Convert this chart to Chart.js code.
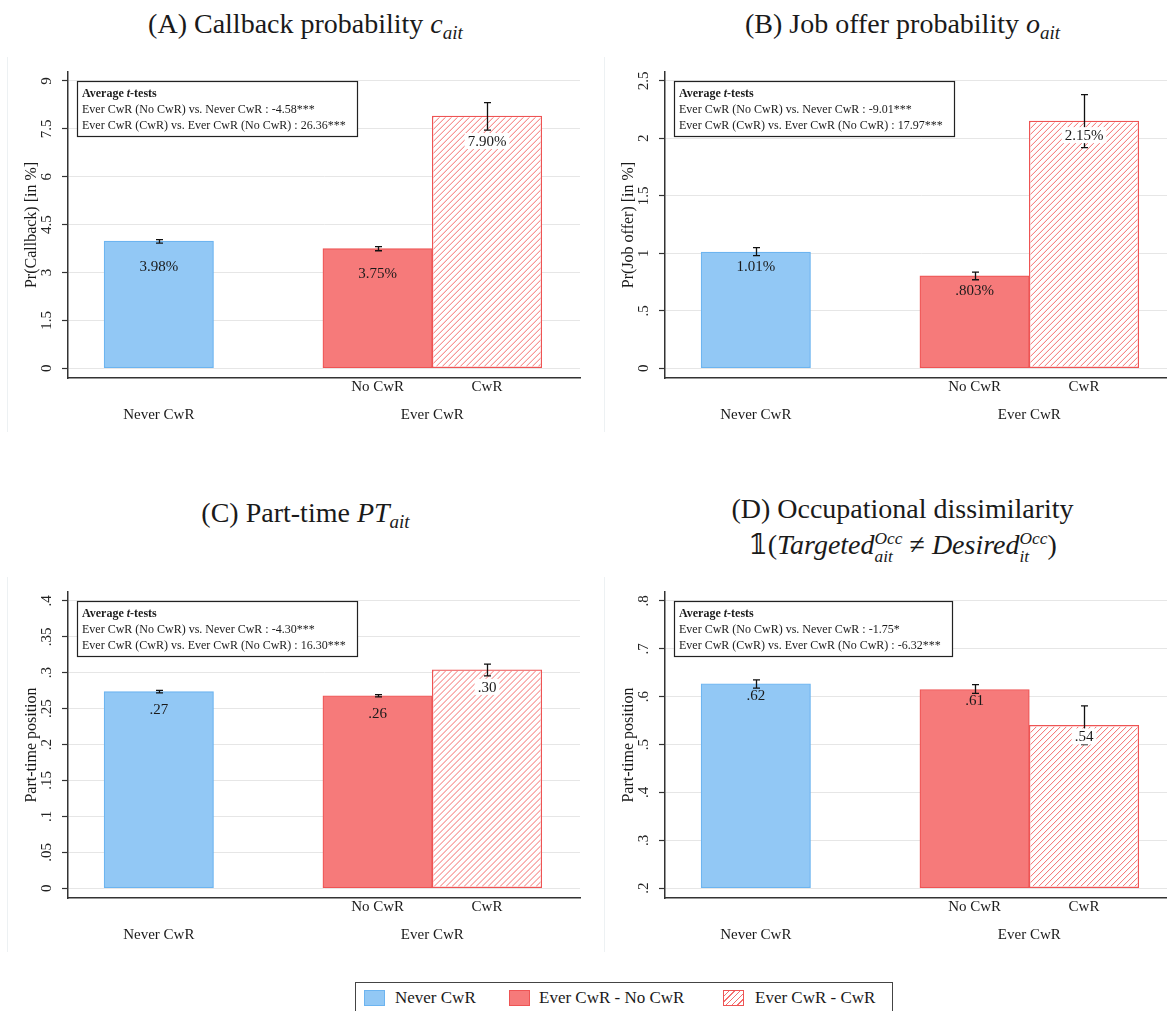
<!DOCTYPE html>
<html><head><meta charset="utf-8">
<script src="https://cdn.jsdelivr.net/npm/chart.js@4.4.1/dist/chart.umd.min.js"></script>
<style>
html,body{margin:0;padding:0;background:#fff;}
body{width:1167px;height:1011px;position:relative;overflow:hidden;font-family:"Liberation Serif",serif;color:#1a1a1a;}
.panel{position:absolute;width:596px;height:375px;border-left:1px solid #edf1f3;}
.panel canvas{display:block;}
.title{position:absolute;width:597px;text-align:center;font-size:28px;line-height:30px;white-space:nowrap;}
.m{font-style:italic;}
.m sub{font-size:0.68em;vertical-align:-0.3em;line-height:0;}
.ss{display:inline-block;vertical-align:-0.45em;line-height:1.05em;font-size:0.62em;font-style:italic;text-align:left;}
.ss span{display:block;}
.legend{position:absolute;left:355px;top:982px;width:538px;height:34px;border:1px solid #444;box-sizing:border-box;font-size:17px;}
.li{position:absolute;top:6px;height:20px;line-height:20px;white-space:nowrap;}
.sw{position:absolute;top:1px;left:0;width:21px;height:16px;box-sizing:border-box;}
.lt{position:absolute;top:-1px;}
</style></head>
<body>
<div class="title" style="left:7px;top:9px">(A) Callback probability <span class="m">c<sub>ait</sub></span></div>
<div class="title" style="left:604px;top:9px">(B) Job offer probability <span class="m">o<sub>ait</sub></span></div>
<div class="title" style="left:7px;top:498px">(C) Part-time <span class="m">PT<sub>ait</sub></span></div>
<div class="title" style="left:604px;top:491px;line-height:36px">(D) Occupational dissimilarity<br><span style="font-family:'DejaVu Serif','DejaVu Sans',serif">𝟙</span>(<i>Targeted</i><span class="ss"><span>Occ</span><span>ait</span></span> ≠ <i>Desired</i><span class="ss"><span>Occ</span><span>it</span></span>)</div>

<div class="panel" style="left:7px;top:57px"><canvas id="cA" width="596" height="375"></canvas></div>
<div class="panel" style="left:604px;top:57px"><canvas id="cB" width="596" height="375"></canvas></div>
<div class="panel" style="left:7px;top:577px"><canvas id="cC" width="596" height="375"></canvas></div>
<div class="panel" style="left:604px;top:577px"><canvas id="cD" width="596" height="375"></canvas></div>

<div class="legend" id="legend"></div>

<script>
// ---------------- DATA ----------------
const seriesNames = ['Never CwR', 'Ever CwR - No CwR', 'Ever CwR - CwR'];
const barSubLabels = ['', 'No CwR', 'CwR'];
const groupNames = ['Never CwR', 'Ever CwR'];

const callbackValues = [3.98, 3.75, 7.90];
const callbackLow    = [3.92, 3.68, 7.46];
const callbackHigh   = [4.03, 3.81, 8.32];
const callbackLabels = ['3.98%', '3.75%', '7.90%'];
const callbackTicks  = [0, 1.5, 3, 4.5, 6, 7.5, 9];
const callbackTickLabels = ['0', '1.5', '3', '4.5', '6', '7.5', '9'];
const callbackTests  = ['Ever CwR (No CwR) vs. Never CwR : -4.58***', 'Ever CwR (CwR) vs. Ever CwR (No CwR) : 26.36***'];

const offerValues = [1.01, 0.803, 2.15];
const offerLow    = [0.98, 0.77, 1.92];
const offerHigh   = [1.05, 0.836, 2.38];
const offerLabels = ['1.01%', '.803%', '2.15%'];
const offerTicks  = [0, 0.5, 1, 1.5, 2, 2.5];
const offerTickLabels = ['0', '.5', '1', '1.5', '2', '2.5'];
const offerTests  = ['Ever CwR (No CwR) vs. Never CwR : -9.01***', 'Ever CwR (CwR) vs. Ever CwR (No CwR) : 17.97***'];

const partTimeValues = [0.2736, 0.268, 0.304];
const partTimeLow    = [0.272, 0.2665, 0.2955];
const partTimeHigh   = [0.2755, 0.2695, 0.312];
const partTimeLabels = ['.27', '.26', '.30'];
const partTimeTicks  = [0, 0.05, 0.1, 0.15, 0.2, 0.25, 0.3, 0.35, 0.4];
const partTimeTickLabels = ['0', '.05', '.1', '.15', '.2', '.25', '.3', '.35', '.4'];
const partTimeTests  = ['Ever CwR (No CwR) vs. Never CwR : -4.30***', 'Ever CwR (CwR) vs. Ever CwR (No CwR) : 16.30***'];

const occValues = [0.627, 0.615, 0.540];
const occLow    = [0.618, 0.607, 0.500];
const occHigh   = [0.635, 0.625, 0.581];
const occLabels = ['.62', '.61', '.54'];
const occTicks  = [0.2, 0.3, 0.4, 0.5, 0.6, 0.7, 0.8];
const occTickLabels = ['.2', '.3', '.4', '.5', '.6', '.7', '.8'];
const occTests  = ['Ever CwR (No CwR) vs. Never CwR : -1.75*', 'Ever CwR (CwR) vs. Ever CwR (No CwR) : -6.32***'];

// ---------------- STYLE / LAYOUT ----------------
const barSlots = [1, 3, 4];           // slot of each bar on the linear x scale (group gap between Never and Ever)
const slotMin = 0.17, slotMax = 4.85;
const SERIF = '"Liberation Serif", "Times New Roman", serif';
const blueFill = 'rgb(146,200,245)', blueLine = 'rgb(108,180,240)';
const redFill = 'rgb(246,122,122)', redLine = 'rgb(238,84,84)';
const hatchLine = 'rgb(244,110,110)';
const HATCHED = 2;
const BW = 1.2;

const overlay = {
  id: 'overlay',
  afterDatasetsDraw(chart) {
    const p = chart.options.plugins.overlay;
    const { ctx, chartArea } = chart;
    const xs = chart.scales.x, ys = chart.scales.y;
    ctx.save();
    // hatch fill of the "Ever CwR - CwR" bar (geometry from the bar element)
    const el = chart.getDatasetMeta(0).data[HATCHED];
    const g = el.getProps(['x', 'y', 'base', 'width'], true);
    const L = g.x - g.width / 2 + BW, R = g.x + g.width / 2 - BW;
    const T = Math.min(g.y, g.base) + BW, B = Math.max(g.y, g.base) - BW;
    const H = B - T;
    ctx.save();
    ctx.beginPath(); ctx.rect(L, T, R - L, H); ctx.clip();
    ctx.strokeStyle = hatchLine; ctx.lineWidth = 1;
    ctx.beginPath();
    for (let k = L - H; k < R + 6; k += 6) { ctx.moveTo(k, B); ctx.lineTo(k + H, T); }
    ctx.stroke();
    ctx.restore();

    // error bars
    ctx.strokeStyle = '#111'; ctx.lineWidth = 1.3;
    for (let i = 0; i < p.values.length; i++) {
      const cx = Math.round(xs.getPixelForValue(barSlots[i])) + 0.5;
      const yl = ys.getPixelForValue(p.low[i]), yh = ys.getPixelForValue(p.high[i]);
      ctx.beginPath();
      ctx.moveTo(cx, yl); ctx.lineTo(cx, yh);
      ctx.moveTo(cx - 3.5, yl); ctx.lineTo(cx + 3.5, yl);
      ctx.moveTo(cx - 3.5, yh); ctx.lineTo(cx + 3.5, yh);
      ctx.stroke();
    }
    // value labels
    ctx.font = '15px ' + SERIF; ctx.textAlign = 'center'; ctx.textBaseline = 'middle';
    for (let i = 0; i < p.values.length; i++) {
      const cx = xs.getPixelForValue(barSlots[i]);
      const ty = ys.getPixelForValue(p.values[i]) + p.labelGap;
      const txt = p.labels[i];
      if (i === HATCHED) {
        const w = ctx.measureText(txt).width;
        ctx.fillStyle = '#fff';
        ctx.fillRect(cx - w / 2 - 3, ty - 8, w + 6, 16);
      }
      ctx.fillStyle = '#1a1a1a';
      ctx.fillText(txt, cx, ty + 1);
    }
    // y tick labels (rotated)
    ctx.font = '15px ' + SERIF; ctx.fillStyle = '#222';
    ys.ticks.forEach((t, k) => {
      const ty = ys.getPixelForValue(t.value);
      ctx.save(); ctx.translate(39, ty); ctx.rotate(-Math.PI / 2);
      ctx.textAlign = 'center'; ctx.textBaseline = 'middle';
      ctx.fillText(p.tickLabels[k], 0, 0);
      ctx.restore();
    });
    // y axis title
    ctx.save();
    ctx.font = '16px ' + SERIF; ctx.fillStyle = '#1a1a1a';
    ctx.translate(24, (chartArea.top + chartArea.bottom) / 2); ctx.rotate(-Math.PI / 2);
    ctx.textAlign = 'center'; ctx.textBaseline = 'middle';
    ctx.fillText(p.yTitle, 0, 0);
    ctx.restore();
    // x labels
    ctx.font = '15px ' + SERIF; ctx.fillStyle = '#1a1a1a'; ctx.textAlign = 'center'; ctx.textBaseline = 'middle';
    for (let i = 0; i < barSubLabels.length; i++) {
      if (barSubLabels[i]) ctx.fillText(barSubLabels[i], xs.getPixelForValue(barSlots[i]), chartArea.bottom + 9);
    }
    ctx.fillText(groupNames[0], xs.getPixelForValue(barSlots[0]), chartArea.bottom + 37);
    ctx.fillText(groupNames[1], xs.getPixelForValue((barSlots[1] + barSlots[2]) / 2), chartArea.bottom + 37);
    // annotation box
    const bx = chartArea.left + 9, by = Math.round(ys.getPixelForValue(p.ticks[p.ticks.length - 1])) + 0.5;
    ctx.font = '12px ' + SERIF;
    const tw = Math.max(ctx.measureText(p.tests[0]).width, ctx.measureText(p.tests[1]).width);
    const bw = Math.round(tw + 16), bh = 55;
    ctx.fillStyle = '#fff'; ctx.fillRect(bx, by, bw, bh);
    ctx.strokeStyle = '#222'; ctx.lineWidth = 1.2; ctx.strokeRect(Math.round(bx) + 0.5, by, bw, bh);
    ctx.textAlign = 'left'; ctx.textBaseline = 'middle'; ctx.fillStyle = '#1a1a1a';
    let tx = bx + 5;
    ctx.font = 'bold 12px ' + SERIF; ctx.fillText('Average ', tx, by + 12); tx += ctx.measureText('Average ').width;
    ctx.font = 'italic bold 12px ' + SERIF; ctx.fillText('t', tx, by + 12); tx += ctx.measureText('t').width;
    ctx.font = 'bold 12px ' + SERIF; ctx.fillText('-tests', tx, by + 12);
    ctx.font = '12px ' + SERIF;
    ctx.fillText(p.tests[0], bx + 5, by + 28);
    ctx.fillText(p.tests[1], bx + 5, by + 44);
    ctx.restore();
  }
};

function makePanel(id, values, low, high, labels, ticks, tickLabels, tests, yTitle, labelGap) {
  const tmin = ticks[0], tmax = ticks[ticks.length - 1], span = tmax - tmin;
  new Chart(document.getElementById(id), {
    type: 'bar',
    data: {
      datasets: [{
        label: 'bars',
        data: values.map((v, i) => ({ x: barSlots[i], y: v })),
        backgroundColor: [blueFill, redFill, '#ffffff'],
        borderColor: [blueLine, redLine, redLine],
        borderWidth: BW,
        borderSkipped: false,
        base: tmin,
        categoryPercentage: 1,
        barPercentage: 1
      }]
    },
    options: {
      responsive: false, animation: false, devicePixelRatio: 1,
      layout: { padding: { top: 15, right: 24, left: 0, bottom: 0 } },
      plugins: {
        legend: { display: false }, tooltip: { enabled: false },
        overlay: { values, low, high, labels, ticks, tickLabels, tests, yTitle, labelGap }
      },
      scales: {
        x: {
          type: 'linear', min: slotMin, max: slotMax, offset: false,
          afterBuildTicks: s => { s.ticks = barSlots.map(v => ({ value: v })); },
          grid: { display: false }, ticks: { display: false },
          border: { display: true, color: '#333', width: 1.5 },
          afterFit: s => { s.height = 54; }
        },
        y: {
          min: tmin - span * 0.034, max: tmax + span * 0.031,
          afterBuildTicks: s => { s.ticks = ticks.map(v => ({ value: v })); },
          grid: { color: '#e6e6e6', lineWidth: 1, drawTicks: true, tickLength: 6, tickColor: '#333', tickWidth: 1.2 },
          ticks: { display: false },
          border: { display: true, color: '#333', width: 1.5 },
          afterFit: s => { s.width = 60; }
        }
      }
    },
    plugins: [overlay]
  });
}

makePanel('cA', callbackValues, callbackLow, callbackHigh, callbackLabels, callbackTicks, callbackTickLabels, callbackTests, 'Pr(Callback) [in %]', 25);
makePanel('cB', offerValues, offerLow, offerHigh, offerLabels, offerTicks, offerTickLabels, offerTests, 'Pr(Job offer) [in %]', 14);
makePanel('cC', partTimeValues, partTimeLow, partTimeHigh, partTimeLabels, partTimeTicks, partTimeTickLabels, partTimeTests, 'Part-time position', 17);
makePanel('cD', occValues, occLow, occHigh, occLabels, occTicks, occTickLabels, occTests, 'Part-time position', 11);

// shared legend
const legendLefts = [8, 153, 367];
const swatchStyles = [
  `background:${blueFill};border:1px solid ${blueLine};`,
  `background:${redFill};border:1px solid ${redLine};`,
  `background:repeating-linear-gradient(135deg,#fff 0 3px,${hatchLine} 3px 4px);border:1px solid ${redLine};`
];
const legendTextOffsets = [31, 30, 32];
const lg = document.getElementById('legend');
seriesNames.forEach((n, i) => {
  const d = document.createElement('div'); d.className = 'li'; d.style.left = legendLefts[i] + 'px';
  d.innerHTML = `<div class="sw" style="${swatchStyles[i]}"></div><span class="lt" style="left:${legendTextOffsets[i]}px">${n}</span>`;
  lg.appendChild(d);
});
</script>
</body></html>
